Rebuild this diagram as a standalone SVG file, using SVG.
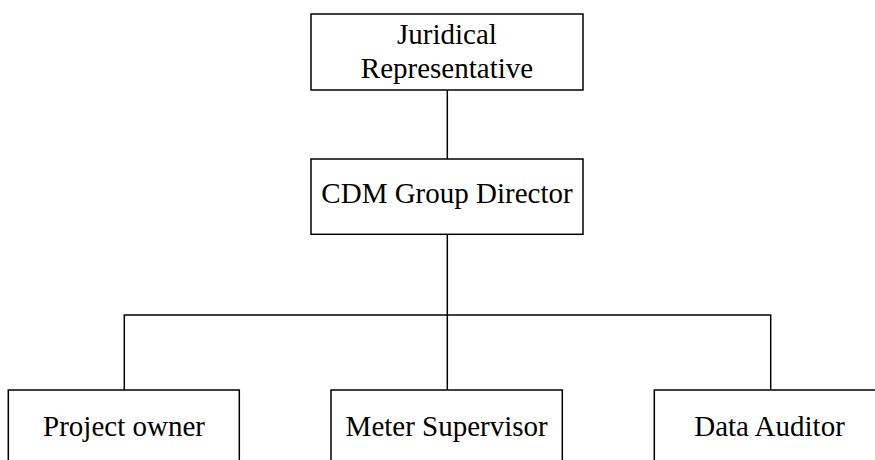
<svg xmlns="http://www.w3.org/2000/svg" width="875" height="460" viewBox="0 0 875 460">
<style>
.box{fill:#fff;stroke:#000;stroke-width:1.5}
.lbl{font-family:"Liberation Serif","Times New Roman",serif;font-size:29px;fill:#000;text-anchor:middle}
.con{fill:none;stroke:#000;stroke-width:1.5}
</style>
<rect width="875" height="460" fill="#fff"/>
<g id="connectors">
<path class="con" d="M447.3,90 V159"/>
<path class="con" d="M447.3,234.3 V390"/>
<path class="con" d="M124.3,390 V315 H770.7 V390"/>
</g>
<g id="juridical">
<rect class="box" x="311" y="14" width="272" height="76"/>
<text class="lbl" x="447" y="44">Juridical</text>
<text class="lbl" x="447" y="78">Representative</text>
</g>
<g id="cdm">
<rect class="box" x="311" y="159" width="272" height="75.3"/>
<text class="lbl" x="447" y="203.3">CDM Group Director</text>
</g>
<g id="owner">
<rect class="box" x="8.3" y="390" width="231" height="90"/>
<text class="lbl" x="124" y="435.5">Project owner</text>
</g>
<g id="meter">
<rect class="box" x="331" y="390" width="231.3" height="90"/>
<text class="lbl" x="446.7" y="435.5">Meter Supervisor</text>
</g>
<g id="auditor">
<rect class="box" x="654.3" y="390" width="231" height="90"/>
<text class="lbl" x="769.5" y="435.5">Data Auditor</text>
</g>
</svg>
